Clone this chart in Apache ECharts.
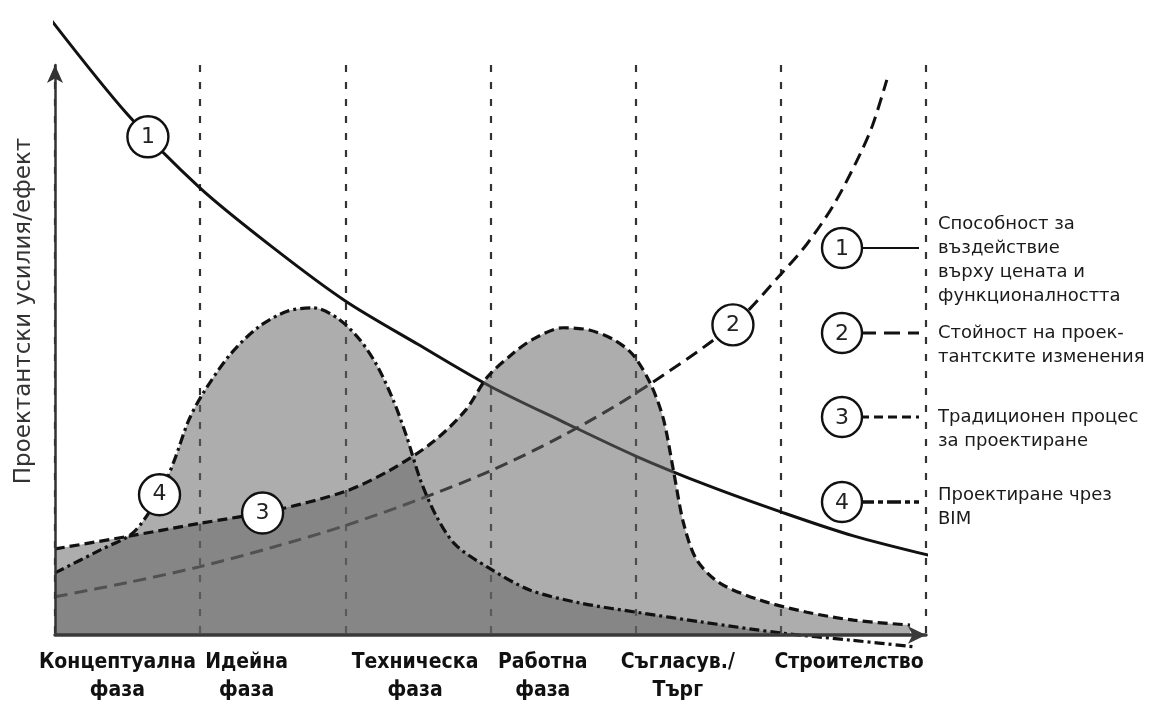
<!DOCTYPE html>
<html lang="bg">
<head>
<meta charset="utf-8">
<title>Проектантски усилия/ефект</title>
<script src="https://cdn.jsdelivr.net/npm/echarts@6/dist/echarts.min.js"></script>
<style>
  html, body { margin: 0; padding: 0; background: #fff; }
  #chart { width: 1150px; height: 709px; }
</style>
</head>
<body>
<div id="chart"></div>
<script>
// Фази по оста X (интервал 1 = една фаза)
const phaseNames = ['Концептуална\nфаза', 'Идейна\nфаза', 'Техническа\nфаза', 'Работна\nфаза', 'Съгласув./\nТърг', 'Строителство'];
const phaseLabelAt = [0.43, 1.32, 2.48, 3.36, 4.29, 5.47];

// (1) Способност за въздействие върху цената и функционалността
const abilityCurve = [
  [-0.03, 108], [0.5, 91.3], [1.0, 78.4], [1.5, 68.0], [2.0, 58.6], [2.5, 51.0],
  [3.0, 43.6], [3.5, 37.4], [4.0, 31.4], [4.5, 26.2], [5.0, 21.6], [5.5, 17.4], [6.1, 13.5]
];

// (2) Стойност на проектантските изменения
const changeCostCurve = [
  [0, 6.7], [0.5, 9.2], [1.0, 12.0], [1.5, 15.4], [2.0, 19.2], [2.5, 23.7], [3.0, 28.8],
  [3.5, 35.0], [4.0, 42.4], [4.67, 54.4], [5.0, 63.3], [5.18, 68.6], [5.36, 75.3],
  [5.52, 83.0], [5.63, 89.3], [5.73, 97.4]
];

// (3) Традиционен процес за проектиране
const traditionalCurve = [
  [0, 15.1], [0.5, 17.3], [1.0, 19.6], [1.5, 21.8], [2.0, 25.2], [2.3, 28.8],
  [2.6, 33.8], [2.83, 39.5], [2.98, 45.3], [3.16, 49.5], [3.3, 52.0], [3.5, 53.9],
  [3.68, 53.5], [3.85, 51.8], [3.98, 49.2], [4.10, 44.2], [4.19, 38.0], [4.26, 28.9],
  [4.33, 19.6], [4.42, 13.2], [4.58, 9.1], [4.86, 6.1], [5.18, 4.0], [5.50, 2.6], [5.89, 1.75]
];

// (4) Проектиране чрез BIM
const bimCurve = [
  [0, 10.9], [0.31, 14.9], [0.54, 18.0], [0.72, 24.6], [0.82, 30.5], [0.92, 37.6],
  [1.02, 42.4], [1.2, 49.0], [1.4, 54.0], [1.6, 56.8], [1.78, 57.4],
  [1.95, 55.5], [2.1, 51.8], [2.22, 47.2], [2.33, 41.2], [2.42, 35.0],
  [2.52, 27.0], [2.63, 20.7], [2.76, 15.8], [2.98, 11.9], [3.27, 7.9],
  [3.62, 5.6], [4.03, 3.9], [4.45, 2.3], [5.0, 0.35], [5.48, -0.9], [5.93, -2.1]
];

// Номерата в кръгчета върху кривите
const badgeNames = ['1', '2', '3', '4'];
const badgePoints = [[0.64, 87.4], [4.67, 54.4], [1.43, 21.4], [0.72, 24.6]];

// Легенда вдясно
const legendNumbers = ['1', '2', '3', '4'];
const legendTexts = [
  'Способност за\nвъздействие\nвърху цената и\nфункционалността',
  'Стойност на проек-\nтантските изменения',
  'Традиционен процес\nза проектиране',
  'Проектиране чрез\nBIM'
];

const yTitle = 'Проектантски усилия/ефект';

// стилове на линиите
const DASH = {
  ability: 'solid',
  cost: [13, 7],
  traditional: [10, 5],
  bim: [10, 4, 3, 4]
};
const FONT = "'DejaVu Sans', 'Noto Sans', sans-serif";
const FONT_NARROW = "'DejaVu Sans Condensed', 'Liberation Sans Narrow', 'DejaVu Sans', sans-serif";
const FILL = 'rgba(100, 100, 100, 0.53)';
const SMOOTH = 0.3;

// Легенда: кръгче, образец на линията, текст
function buildLegend() {
  const rows = [248, 333, 417, 502];
  const textTop = [212, 321, 405, 483];
  const dashes = [null, [16, 8], [9, 5], [14, 4, 5, 4]];
  const widths = [2, 3, 3, 3.5];
  const out = [];
  legendNumbers.forEach((no, i) => {
    const cy = rows[i];
    out.push({
      type: 'line', z: 10,
      shape: { x1: 860, y1: cy, x2: 919, y2: cy },
      style: { stroke: '#111', lineWidth: widths[i], lineDash: dashes[i] }
    });
    out.push({
      type: 'circle', z: 11,
      shape: { cx: 842, cy: cy, r: 20 },
      style: { fill: '#fff', stroke: '#111', lineWidth: 2.4 }
    });
    out.push({
      type: 'text', z: 12, x: 842, y: cy + 1,
      style: { text: no, fontSize: 22, fontFamily: FONT, fill: '#222', align: 'center', verticalAlign: 'middle' }
    });
    out.push({
      type: 'text', z: 10, x: 938, y: textTop[i],
      style: { text: legendTexts[i], fontSize: 18, fontFamily: FONT, lineHeight: 24, fill: '#1a1a1a' }
    });
  });
  out.push({
    type: 'text', x: 24, y: 311, rotation: Math.PI / 2,
    style: { text: yTitle, fontSize: 23, fontFamily: FONT, fill: '#333', align: 'center', verticalAlign: 'middle' }
  });
  return out;
}

function lineSeries(name, data, dash, z, width) {
  return {
    name: name, type: 'line', data: data, smooth: SMOOTH,
    showSymbol: false, clip: false, z: z, silent: true,
    lineStyle: { color: '#111', width: width || 3, type: dash }
  };
}

function fillSeries(name, data) {
  return {
    name: name, type: 'line', data: data, smooth: SMOOTH,
    showSymbol: false, clip: true, z: 3, silent: true,
    lineStyle: { width: 0 },
    areaStyle: { color: FILL, opacity: 1 }
  };
}

const chart = echarts.init(document.getElementById('chart'), null, { renderer: 'canvas' });

const option = {
  backgroundColor: '#fff',
  animation: false,
  grid: { left: 55, right: 224, top: 65, bottom: 74 },
  xAxis: [
    {
      type: 'value', min: 0, max: 6, interval: 1, z: 6,
      axisLine: {
        show: true, onZero: true,
        symbol: ['none', 'arrow'], symbolSize: [13, 18],
        lineStyle: { color: '#3a3a3a', width: 3.5 }
      },
      axisTick: { show: false },
      splitLine: { show: false },
      axisLabel: {
        customValues: phaseLabelAt,
        formatter: (v) => {
          const i = phaseLabelAt.findIndex(p => Math.abs(p - v) < 1e-6);
          return i < 0 ? '' : phaseNames[i];
        },
        margin: 14,
        fontFamily: FONT_NARROW, fontWeight: 'bold', fontSize: 21,
        lineHeight: 28, color: '#111'
      }
    },
    {
      // само вертикалните пунктирни линии между фазите
      type: 'value', min: 0, max: 6, interval: 1, z: 0,
      axisLine: { show: false }, axisTick: { show: false }, axisLabel: { show: false },
      splitLine: { show: true, lineStyle: { color: '#333', width: 2.2, type: [7, 10] } }
    }
  ],
  yAxis: {
    type: 'value', min: 0, max: 100, z: 6,
    axisLine: {
      show: true,
      symbol: ['none', 'arrow'], symbolSize: [12, 18],
      lineStyle: { color: '#333', width: 2.5 }
    },
    axisTick: { show: false },
    axisLabel: { show: false },
    splitLine: { show: false }
  },
  graphic: buildLegend(),
  series: [
    lineSeries('ability', abilityCurve, DASH.ability, 2, 3),
    lineSeries('cost', changeCostCurve, DASH.cost, 2, 3),
    fillSeries('traditional-fill', traditionalCurve),
    fillSeries('bim-fill', bimCurve),
    lineSeries('traditional', traditionalCurve, DASH.traditional, 4, 3.2),
    lineSeries('bim', bimCurve, DASH.bim, 4, 3.2),
    {
      name: 'badges', type: 'scatter', z: 5, clip: false, silent: true,
      symbol: 'circle', symbolSize: 41,
      data: badgePoints.map((p, i) => ({ value: p, name: badgeNames[i] })),
      itemStyle: { color: '#fff', borderColor: '#111', borderWidth: 2.4, opacity: 1 },
      label: {
        show: true, position: 'inside', formatter: '{b}',
        fontFamily: FONT, fontSize: 22, color: '#222'
      }
    }
  ]
};

chart.setOption(option);
</script>
</body>
</html>
